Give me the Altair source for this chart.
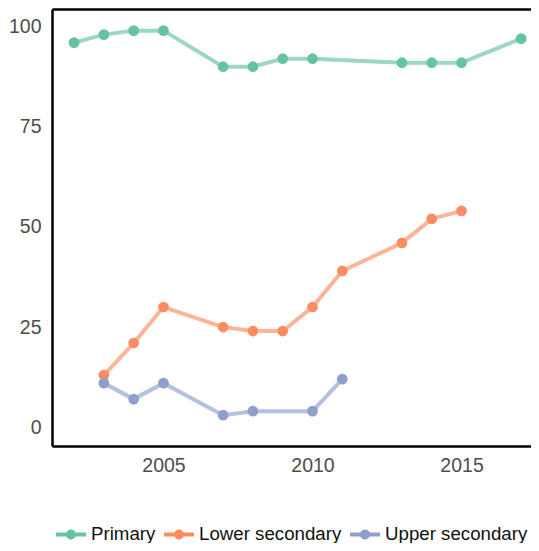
import altair as alt
import pandas as pd

levels = ["Primary", "Lower secondary", "Upper secondary"]
colors = ["#66c2a5", "#fc8d62", "#8da0cb"]

primary_years = [2002, 2003, 2004, 2005, 2007, 2008, 2009, 2010, 2013, 2014, 2015, 2017]
primary_values = [96, 98, 99, 99, 90, 90, 92, 92, 91, 91, 91, 97]

lower_years = [2003, 2004, 2005, 2007, 2008, 2009, 2010, 2011, 2013, 2014, 2015]
lower_values = [13, 21, 30, 25, 24, 24, 30, 39, 46, 52, 54]

upper_years = [2003, 2004, 2005, 2007, 2008, 2010, 2011]
upper_values = [11, 7, 11, 3, 4, 4, 12]

x_ticks = [2005, 2010, 2015]
y_ticks = [0, 25, 50, 75, 100]

rows = []
for lvl, ys, vs in [
    ("Primary", primary_years, primary_values),
    ("Lower secondary", lower_years, lower_values),
    ("Upper secondary", upper_years, upper_values),
]:
    for yr, v in zip(ys, vs):
        rows.append({"level": lvl, "year": yr, "value": v})
df = pd.DataFrame(rows)

FONT = "Liberation Sans"
LFS = 18.7
TFS = 19.5
xscale = alt.Scale(domain=[2001.26, 2017.33], nice=False, zero=False)
yscale = alt.Scale(domain=[-4.7, 104.4], nice=False, zero=False)

# legend symbol: a short line with a dot on it (unit coordinates, scaled by symbol size)
LINE_DOT = ("M-1,-0.1333H1V0.1333H-1Z"
            "M0.3333,0A0.3333,0.3333,0,1,1,-0.3333,0A0.3333,0.3333,0,1,1,0.3333,0Z")

y_axis = alt.Axis(
    values=y_ticks, title=None, grid=False, ticks=False, tickSize=0,
    labelPadding=11, labelFontSize=TFS, labelFont=FONT, labelColor="#4d4d4d",
    domainColor="black", domainWidth=2.5,
)

lines = alt.Chart(df).mark_line(strokeWidth=4, opacity=0.65).encode(
    x=alt.X("year:Q", scale=xscale, axis=alt.Axis(
        values=x_ticks, format="d", title=None, grid=False, ticks=False, tickSize=0,
        labelPadding=10, labelFontSize=TFS, labelFont=FONT, labelColor="#4d4d4d",
        domainColor="black", domainWidth=2.5)),
    y=alt.Y("value:Q", scale=yscale, axis=y_axis),
    color=alt.Color("level:N", sort=levels, scale=alt.Scale(range=colors), legend=None),
)

points = alt.Chart(df).mark_circle(size=115, opacity=1).encode(
    x=alt.X("year:Q", scale=xscale, axis=alt.Axis(
        orient="top", labels=False, ticks=False, tickSize=0, title=None, grid=False,
        domainColor="black", domainWidth=2.5)),
    y=alt.Y("value:Q", scale=yscale, axis=y_axis),
    fill=alt.Fill("level:N", scale=alt.Scale(domain=levels, range=colors),
                  legend=alt.Legend(
                      orient="none", legendX=4, legendY=510.3, direction="horizontal",
                      title=None, symbolType=LINE_DOT, symbolSize=900, symbolStrokeWidth=0,
                      symbolOpacity=1, labelFontSize=LFS, labelFont=FONT, labelColor="#111111",
                      labelOffset=5, columnPadding=8, padding=0)),
)

chart = alt.layer(lines, points).resolve_axis(x="independent").properties(
    width=479, height=437,
    autosize=alt.AutoSizeParams(type="none"),
    padding={"left": 44, "top": 1, "right": 0, "bottom": 97},
    background="white",
).configure_view(stroke=None)

chart.save("out.html", embed_options={"renderer": "svg", "actions": False})
